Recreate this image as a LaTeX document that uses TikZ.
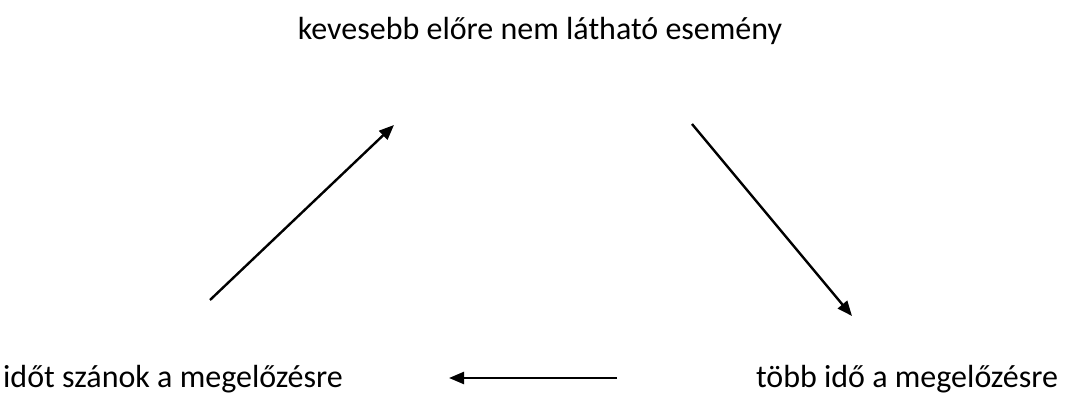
\documentclass[tikz,border=0pt]{standalone}
\usepackage{fontspec}
\setmainfont{Carlito}
\usetikzlibrary{arrows.meta}
\begin{document}
\begin{tikzpicture}[x=1pt,y=1pt,
  lbl/.style={font=\fontsize{32}{36}\selectfont, inner sep=0pt, anchor=base},
  arr/.style={line width=2.4pt, -{Triangle[length=15pt,width=12pt]}}]
\useasboundingbox (0,0) rectangle (1072,394);
\node[lbl] (top) at (540,354) {kevesebb előre nem látható esemény};
\node[lbl] (left) at (173,7) {időt szánok a megelőzésre};
\node[lbl] (right) at (907,7) {több idő a megelőzésre};
\coordinate (a1) at (210,94);
\coordinate (a2) at (394,269);
\coordinate (b1) at (692,270);
\coordinate (b2) at (852,78);
\coordinate (c1) at (617,16);
\coordinate (c2) at (449,16);
\draw[arr] (a1) -- (a2);
\draw[arr] (b1) -- (b2);
\draw[arr] (c1) -- (c2);
\end{tikzpicture}
\end{document}
